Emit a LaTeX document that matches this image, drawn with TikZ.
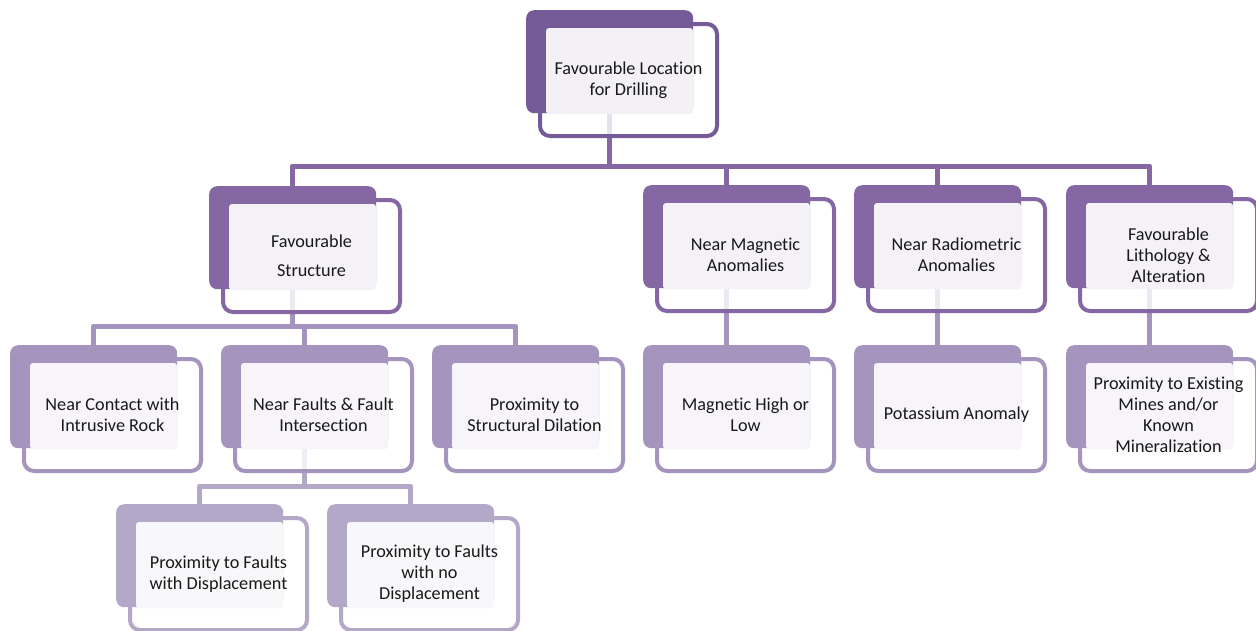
\documentclass[tikz,border=0pt]{standalone}
\usepackage{fontspec}
\setmainfont{Carlito}[Ligatures=NoCommon]
\usetikzlibrary{backgrounds}

\definecolor{topviolet}{HTML}{745A96}
\definecolor{midviolet}{HTML}{8467A3}
\definecolor{lowviolet}{HTML}{A594BD}
\definecolor{paleviolet}{HTML}{B4A8C9}

% name, x, y (top left of the dark card), colour, text
\newcommand{\drillbox}[5]{%
  \draw[framebox, draw=#4] ({#2+14},{#3+14}) rectangle ++(177,112);
  \node[backbox, fill=#4] (#1) at (#2,#3) {};
  \fill[#4!9!white, rounded corners=3pt] ({#2+20},{#3+18}) rectangle ({#2+167},{#3+104});
  \node[boxtext] (#1-t) at ({#2+102.5},{#3+70}) {#5};
}

\begin{document}
\begin{tikzpicture}[x=1pt, y=-1pt,
    backbox/.style={anchor=north west, minimum width=167pt, minimum height=103pt,
      inner sep=0pt, rounded corners=8pt},
    framebox/.style={line width=4pt, rounded corners=10pt, fill=white, fill opacity=0.8},
    boxtext/.style={align=center, inner sep=0pt, text=black!90, font=\fontsize{18.2}{21}\selectfont},
    link/.style={line width=5pt, line join=round}]
  \useasboundingbox (0,0) rectangle (1256,630);

  % top
  \drillbox{top}{526}{10}{topviolet}{Favourable Location\\for Drilling}

  % second row
  \drillbox{struct}{209}{186}{midviolet}{Favourable\\[8pt]Structure}
  \drillbox{magnet}{643}{185}{midviolet}{Near Magnetic\\Anomalies}
  \drillbox{radio}{854}{185}{midviolet}{Near Radiometric\\Anomalies}
  \drillbox{litho}{1066}{185}{midviolet}{Favourable\\Lithology \&\\Alteration}

  % third row
  \drillbox{contact}{10}{345}{lowviolet}{Near Contact with\\Intrusive Rock}
  \drillbox{faults}{221}{345}{lowviolet}{Near Faults \& Fault\\Intersection}
  \drillbox{dilation}{432}{345}{lowviolet}{Proximity to\\Structural Dilation}
  \drillbox{high}{643}{345}{lowviolet}{Magnetic High or\\Low}
  \drillbox{potassium}{854}{345}{lowviolet}{Potassium Anomaly}
  \drillbox{mines}{1066}{345}{lowviolet}{Proximity to Existing\\Mines and/or\\Known\\Mineralization}

  % bottom
  \drillbox{displ}{116}{504}{paleviolet}{Proximity to Faults\\with Displacement}
  \drillbox{nodispl}{327}{504}{paleviolet}{Proximity to Faults\\with no\\Displacement}

  \begin{pgfonlayer}{background}
    \coordinate (bus1) at (0,166);
    \coordinate (bus2) at (0,326);
    \coordinate (bus3) at (0,486);
    \draw[link, midviolet] (top.south) -- (top.south |- bus1);
    \draw[link, midviolet] (struct.north) -- (struct.north |- bus1) -- (litho.north |- bus1) -- (litho.north);
    \draw[link, midviolet] (magnet.north |- bus1) -- (magnet.north);
    \draw[link, midviolet] (radio.north |- bus1) -- (radio.north);

    \draw[link, lowviolet] (struct.south) -- (struct.south |- bus2);
    \draw[link, lowviolet] (contact.north) -- (contact.north |- bus2) -- (dilation.north |- bus2) -- (dilation.north);
    \draw[link, lowviolet] (faults.north |- bus2) -- (faults.north);
    \draw[link, lowviolet] (magnet.south) -- (high.north);
    \draw[link, lowviolet] (radio.south) -- (potassium.north);
    \draw[link, lowviolet] (litho.south) -- (mines.north);

    \draw[link, paleviolet] (faults.south) -- (faults.south |- bus3);
    \draw[link, paleviolet] (displ.north) -- (displ.north |- bus3) -- (nodispl.north |- bus3) -- (nodispl.north);
  \end{pgfonlayer}
\end{tikzpicture}
\end{document}
